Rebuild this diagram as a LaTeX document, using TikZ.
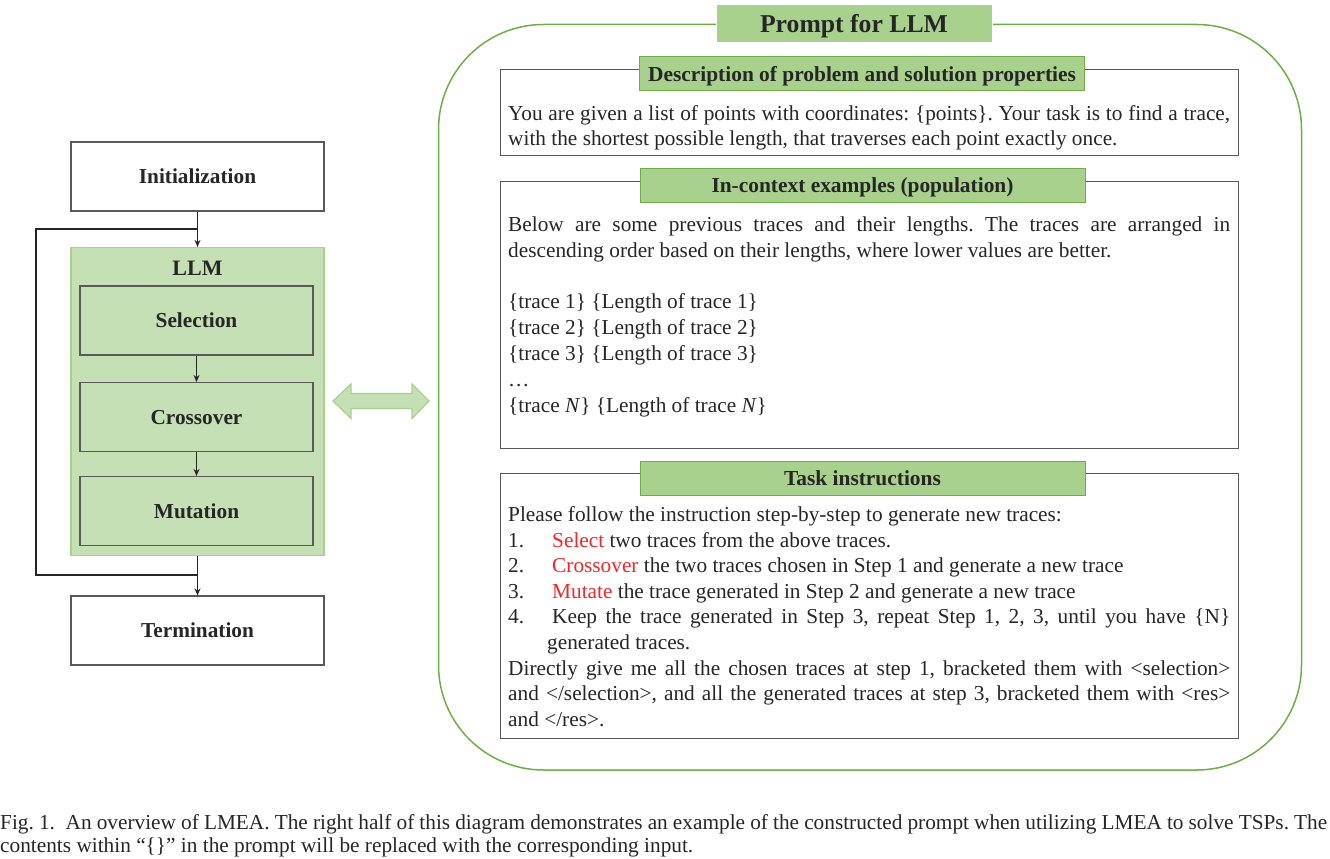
\documentclass[tikz,border=0pt]{standalone}
\usepackage{fontspec}
\setmainfont{Liberation Serif}
\usetikzlibrary{arrows.meta}
\definecolor{lgreen}{HTML}{C5E0B4}
\definecolor{mgreen}{HTML}{A9D18E}
\definecolor{dgreen}{HTML}{70AD47}
\definecolor{boxgray}{HTML}{595959}
\definecolor{redtxt}{HTML}{F0282A}
\definecolor{txt}{HTML}{262626}
\frenchspacing
\tikzset{
  flowbox/.style={draw=boxgray, line width=1.1pt, minimum width=253pt, minimum height=69pt, inner sep=0pt, fill=white,
    font=\fontsize{21.3}{24}\selectfont\bfseries, text=txt, text depth=0pt},
  stagebox/.style={flowbox, fill=lgreen, minimum width=233pt},
  llmbox/.style={draw=mgreen, line width=1.2pt, fill=lgreen, minimum width=253pt, minimum height=308pt, inner sep=0pt},
  flow/.style={draw=txt, line width=1.1pt},
  flowarrow/.style={flow, -{Stealth[length=7pt,width=6pt]}},
  pbox/.style={draw=boxgray, line width=1pt, fill=white, minimum width=738pt, inner sep=0pt},
  header/.style={draw=dgreen, line width=1pt, fill=mgreen, minimum width=445pt, minimum height=34pt, inner sep=0pt,
    font=\fontsize{21.4}{24}\selectfont\bfseries, text=txt, text depth=0pt},
  bodytext/.style={anchor=base west, inner sep=0pt, text width=722pt, align=justify, text=txt},
}
\begin{document}
\begin{tikzpicture}[x=1pt,y=-1pt]
\useasboundingbox (0,0) rectangle (1330,859);

% ---------- left flow ----------
\node[flowbox] (init) at (197.5,176.5) {Initialization};
\node[llmbox] (llm) at (197.5,401.5) {};
\node[font=\fontsize{22}{24}\selectfont\bfseries, text=txt, text depth=0pt] (llmlabel) at (197.5,268) {LLM};
\node[stagebox] (sel) at (196.5,320.5) {Selection};
\node[stagebox] (cross) at (196.5,417) {Crossover};
\node[stagebox] (mut) at (196.5,511) {Mutation};
\node[flowbox] (term) at (197.5,630.5) {Termination};

\coordinate (fbtop) at (197.5,229);
\coordinate (fbbot) at (197.5,575);
\coordinate (c1) at (36,575);
\coordinate (c2) at (36,229);

\draw[flowarrow] (init.south) -- (llm.north);
\draw[flowarrow] (sel.south) -- (cross.north);
\draw[flowarrow] (cross.south) -- (mut.north);
\draw[flowarrow] (llm.south) -- (term.north);
\draw[flow] (fbbot) -- (c1) -- (c2) -- (fbtop);

% ---------- double arrow ----------
\draw[draw=mgreen, line width=1.2pt, fill=lgreen, line join=miter]
  (333,401) -- (351,384) -- (351,393.5) -- (412,393.5) -- (412,384) -- (429,401)
  -- (412,418.5) -- (412,408.5) -- (351,408.5) -- (351,418.5) -- cycle;

% ---------- prompt frame ----------
\draw[draw=dgreen, line width=1.5pt, rounded corners=105pt] (438.5,24.5) rectangle (1301.5,770);
\node[draw=white, line width=1pt, fill=mgreen, minimum width=276pt, minimum height=38pt, inner sep=0pt,
  font=\fontsize{25.7}{28}\selectfont\bfseries, text=txt, text depth=0pt] (title) at (854,23.5) {Prompt for LLM};

% box 1
\node[pbox, minimum height=86pt] (b1) at (869,112.5) {};
\node[header] (h1) at (862,73.5) {Description of problem and solution properties};
\node[bodytext, font=\fontsize{21.3}{24.7}\selectfont] (t1) at (508,120.3) {You are given a list of points with coordinates: \{points\}. Your task is to find a trace,\linebreak with the shortest possible length, that traverses each point exactly once.};

% box 2
\node[pbox, minimum height=267pt] (b2) at (869,314.5) {};
\node[header] (h2) at (862.5,185.3) {In-context examples (population)};
\node[bodytext, font=\fontsize{21.3}{25.8}\selectfont] (t2) at (508,231.5) {Below are some previous traces and their lengths. The traces are arranged in\linebreak descending order based on their lengths, where lower values are better.\par
\strut\par
\{trace 1\} \{Length of trace 1\}\par
\{trace 2\} \{Length of trace 2\}\par
\{trace 3\} \{Length of trace 3\}\par
…\par
\{trace \textit{N}\} \{Length of trace \textit{N}\}};

% box 3
\node[pbox, minimum height=265pt] (b3) at (869,605.7) {};
\node[header] (h3) at (862.5,478.3) {Task instructions};
\node[bodytext, font=\fontsize{21.3}{25.6}\selectfont] (t3) at (508,521.5) {Please follow the instruction step-by-step to generate new traces:\par
\makebox[44pt][l]{1.}\textcolor{redtxt}{Select} two traces from the above traces.\par
\makebox[44pt][l]{2.}\textcolor{redtxt}{Crossover} the two traces chosen in Step 1 and generate a new trace\par
\makebox[44pt][l]{3.}\textcolor{redtxt}{Mutate} the trace generated in Step 2 and generate a new trace\par
\makebox[44pt][l]{4.}Keep the trace generated in Step 3, repeat Step 1, 2, 3, until you have \{N\}\linebreak\hspace*{39pt}generated traces.\par
Directly give me all the chosen traces at step 1, bracketed them with <selection>\linebreak and </selection>, and all the generated traces at step 3, bracketed them with <res>\linebreak and </res>.};

% ---------- caption ----------
\node[anchor=base west, inner sep=0pt, text width=1327pt, align=justify, text=txt, font=\fontsize{21.3}{23}\selectfont] (cap) at (0,829)
{Fig. 1.\hspace{0.5em}An overview of LMEA. The right half of this diagram demonstrates an example of the constructed prompt when utilizing LMEA to solve TSPs. The\linebreak contents within “\{\}” in the prompt will be replaced with the corresponding input.};
\end{tikzpicture}
\end{document}
